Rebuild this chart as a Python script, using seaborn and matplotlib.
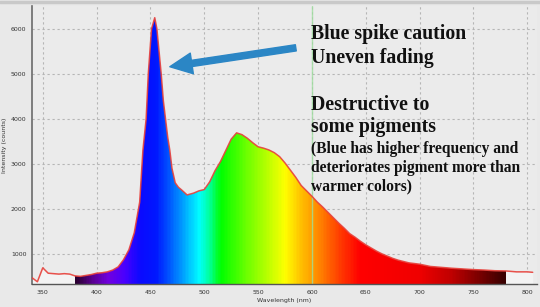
import numpy as np
import matplotlib
matplotlib.use("Agg")
import matplotlib.pyplot as plt
import seaborn as sns
from matplotlib.colors import LinearSegmentedColormap

# spectrum (wavelength nm, intensity counts)
wavelength = [340, 345, 350, 355, 360, 365, 370, 375, 380, 385, 390, 395, 400, 405,
              410, 415, 420, 425, 430, 435, 440, 443, 446, 448, 451, 454, 456, 458,
              460, 462, 464, 466, 468, 470, 473, 476, 479, 484, 490, 495, 500, 505,
              510, 515, 520, 525, 530, 535, 540, 545, 550, 555, 560, 565, 570, 575,
              580, 585, 590, 595, 600, 605, 610, 615, 620, 625, 630, 635, 640, 645,
              650, 655, 660, 665, 670, 675, 680, 690, 700, 710, 720, 730, 740, 750,
              760, 770, 780, 790, 800, 805]
intensity = [470, 380, 690, 570, 560, 550, 560, 550, 510, 500, 520, 540, 570, 580,
             600, 640, 710, 870, 1090, 1470, 2150, 3300, 4000, 5000, 6000, 6250, 6000, 5500,
             5000, 4400, 4000, 3600, 3300, 2900, 2580, 2480, 2420, 2310, 2350, 2400, 2430, 2600,
             2850, 3050, 3300, 3550, 3690, 3650, 3570, 3470, 3380, 3350, 3310, 3250, 3160, 3020,
             2860, 2700, 2520, 2400, 2280, 2150, 2040, 1920, 1800, 1680, 1570, 1450, 1370, 1280,
             1200, 1130, 1060, 1000, 950, 900, 860, 800, 770, 720, 700, 680, 665, 650,
             640, 625, 620, 600, 600, 590]

x_ticks = [350, 400, 450, 500, 550, 600, 650, 700, 750, 800]
y_ticks = [1000, 2000, 3000, 4000, 5000, 6000]

big_lines = ["Blue spike caution", "Uneven fading", "Destructive to", "some pigments"]
small_lines = ["(Blue has higher frequency and", "deteriorates pigment more than", "warmer colors)"]

# visible-light colour ramp used for the fill under the curve
spec_stops = [(380, "#2a0030"), (395, "#5a0090"), (410, "#7000e0"), (425, "#4a00ff"),
              (440, "#0a0aff"), (455, "#0018ff"), (470, "#0068ff"), (485, "#00c0ff"),
              (495, "#00ffff"), (505, "#00ff90"), (515, "#00ff00"), (540, "#70ff00"),
              (560, "#c0ff00"), (575, "#ffff00"), (590, "#ffc000"), (605, "#ff8c00"),
              (625, "#ff4000"), (645, "#ff0000"), (700, "#f00000"), (730, "#c00000"),
              (760, "#700000"), (780, "#380000")]

sns.set_theme(style="whitegrid")
plt.rcParams["font.family"] = ["DejaVu Sans"]

fig = plt.figure(figsize=(5.4, 3.07), dpi=100, facecolor="#e9e9e9")
ax = fig.add_axes([32 / 540, 1 - 284 / 307, 505 / 540, 278 / 307])
ax.set_facecolor("#ebebeb")
ax.set_axisbelow(True)

lo, hi = spec_stops[0][0], spec_stops[-1][0]
cmap = LinearSegmentedColormap.from_list(
    "spec", [((w - lo) / (hi - lo), c) for w, c in spec_stops])

poly = ax.fill_between(wavelength, 0, intensity, color="#f3f3f3", lw=0, zorder=1)
grad = np.linspace(0, 1, 400).reshape(1, -1)
im = ax.imshow(grad, cmap=cmap, extent=(lo, hi, 0, 7000), aspect="auto",
               origin="lower", zorder=1.5)
im.set_clip_path(poly.get_paths()[0], transform=ax.transData)

ax.axvline(600, color="#9ede9e", lw=1, alpha=0.8, zorder=2)
sns.lineplot(x=wavelength, y=intensity, color="#e8403a", lw=1.1, alpha=0.9,
             ax=ax, zorder=3)

ax.set_xlim(340, 809)
ax.set_ylim(330, 6510)
ax.set_xticks(x_ticks)
ax.set_yticks(y_ticks)
ax.tick_params(axis="both", labelsize=4.5, colors="#444444", length=2.5, width=0.6,
               pad=1.5, direction="out")
ax.tick_params(axis="both", labelcolor="#333333")
ax.grid(True, color="#b5b5b5", lw=0.8, linestyle=(0, (2, 2.5)))
for s in ["top", "right"]:
    ax.spines[s].set_visible(False)
ax.spines["left"].set_color("#6a6a6a")
ax.spines["left"].set_linewidth(1.2)
ax.spines["bottom"].set_color("#555555")
ax.spines["bottom"].set_linewidth(1.0)
ax.set_xlabel("Wavelength (nm)", fontsize=4.5, color="#333333", labelpad=2.5)
ax.set_ylabel("Intensity (counts)", fontsize=4.5, color="#333333", labelpad=3)

ax.annotate("", xy=(468, 5160), xytext=(585, 5580),
            arrowprops=dict(width=4.5, headwidth=15, headlength=16, color="#2b86c5",
                            shrink=0), zorder=4)

serif = ["Liberation Serif", "DejaVu Serif"]
for txt, yb in zip(big_lines, [39, 63, 110, 132]):
    fig.text(311 / 540, 1 - yb / 307, txt, family=serif, fontweight="bold",
             fontsize=14.2, color="#111111", va="baseline", ha="left")
for txt, yb in zip(small_lines, [153, 172, 190]):
    fig.text(311 / 540, 1 - yb / 307, txt, family=serif, fontweight="bold",
             fontsize=11.2, color="#111111", va="baseline", ha="left")

fig.add_artist(plt.Line2D([0, 1], [1 - 1.5 / 307] * 2, transform=fig.transFigure,
                          color="#c9c9c9", lw=2.5))

fig.savefig("out.png", dpi=100, facecolor=fig.get_facecolor())
